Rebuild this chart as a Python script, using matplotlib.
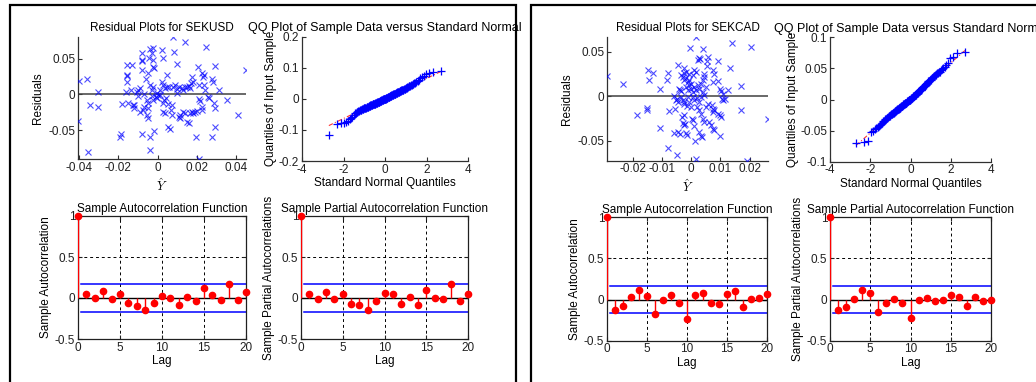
import matplotlib
matplotlib.use('Agg')
import matplotlib.pyplot as plt
from matplotlib.patches import Rectangle
from statistics import NormalDist
import numpy as np

plt.rcParams['font.family'] = ['Liberation Sans', 'DejaVu Sans']
plt.rcParams['mathtext.fontset'] = 'cm'
plt.rcParams['font.size'] = 8.5
plt.rcParams['axes.unicode_minus'] = False

# ---------------- data ----------------
# SEKUSD residual plot (fitted values vs residuals)
fitted_usd = [-0.0402, -0.0357, -0.0405, -0.0354, -0.0346, -0.0303, -0.0303, -0.0158, -0.0133, -0.0158,
              -0.0155, -0.0155, -0.0162, -0.0138, -0.0179, -0.0150, -0.0192, -0.0184, -0.0124, -0.0119,
              -0.0107, -0.0102, -0.0090, -0.0099, -0.0082, -0.0082, -0.0078, -0.0082, -0.0082, -0.0090,
              -0.0073, -0.0070, -0.0056, -0.0060, -0.0048, -0.0039, -0.0031, -0.0022, -0.0026, -0.0043,
              -0.0022, -0.0019, -0.0039, -0.0022, -0.0031, -0.0031, -0.0022, -0.0005, 0.0003, 0.0012,
              -0.0048, -0.0056, -0.0051, -0.0048, -0.0039, -0.0039, -0.0019, 0.0024, 0.0026, 0.0020,
              0.0029, 0.0037, 0.0046, 0.0041, 0.0032, 0.0026, 0.0029, 0.0037, 0.0049, 0.0054,
              0.0063, 0.0077, 0.0083, 0.0097, 0.0075, 0.0066, 0.0071, 0.0080, 0.0089, 0.0097,
              0.0106, 0.0114, 0.0106, 0.0114, 0.0140, 0.0123, 0.0131, 0.0140, 0.0148, 0.0157,
              0.0162, 0.0131, 0.0140, 0.0148, 0.0157, 0.0165, 0.0174, 0.0182, 0.0191, 0.0199,
              0.0174, 0.0182, 0.0169, 0.0204, 0.0211, 0.0211, 0.0216, 0.0194, 0.0208, 0.0225,
              0.0233, 0.0228, 0.0245, 0.0233, 0.0242, 0.0225, 0.0225, 0.0255, 0.0262, 0.0276,
              0.0279, 0.0289, 0.0310, 0.0284, 0.0293, 0.0293, 0.0276, 0.0352, 0.0407, 0.0449,
              -0.0005, 0.0012, -0.0010, 0.0060, -0.0070, 0.0100, -0.0120, 0.0050]
resid_usd = [0.0186, 0.0209, -0.0367, -0.0809, -0.0153, -0.0181, 0.0028, 0.0405, 0.0405, 0.0270,
             0.0256, 0.0177, 0.0037, 0.0060, -0.0135, -0.0126, -0.0591, -0.0558, -0.0153, -0.0195,
             0.0037, 0.0060, 0.0084, -0.0023, 0.0581, 0.0479, 0.0465, 0.0340, -0.0558, -0.0242,
             -0.0219, -0.0172, -0.0079, 0.0209, 0.0293, 0.0628, 0.0581, 0.0651, 0.0479, 0.0502,
             0.0386, 0.0372, 0.0130, 0.0107, 0.0060, -0.0023, -0.0079, -0.0056, -0.0009, 0.0060,
             -0.0195, -0.0288, -0.0335, -0.0126, -0.0591, -0.0777, -0.0507, 0.0619, 0.0502, 0.0177,
             0.0130, 0.0084, 0.0107, -0.0056, -0.0079, -0.0126, -0.0247, -0.0265, 0.0270, -0.0451,
             -0.0484, 0.0805, 0.0595, 0.0419, -0.0149, -0.0219, -0.0288, 0.0107, 0.0130, 0.0070,
             0.0098, -0.0288, -0.0312, -0.0335, 0.0726, 0.0084, 0.0060, 0.0107, 0.0098, 0.0116,
             0.0084, -0.0242, -0.0265, -0.0381, -0.0405, -0.0256, -0.0242, -0.0265, -0.0251, -0.0228,
             0.0237, 0.0177, 0.0153, 0.0386, 0.0130, -0.0070, -0.0093, -0.0600, -0.0907, 0.0293,
             0.0270, 0.0247, 0.0665, 0.0130, 0.0060, -0.0172, -0.0219, -0.0033, -0.0047, 0.0209,
             0.0177, 0.0400, 0.0060, -0.0126, -0.0186, -0.0451, -0.0600, -0.0079, -0.0288, 0.0340,
             0.0020, -0.0009, -0.0040, 0.0100, 0.0010, 0.0020, -0.0150, -0.0130]

# SEKCAD residual plot
fitted_cad = [-0.0289, -0.0233, -0.0147, -0.0131, -0.0144, -0.0185, -0.0151, -0.0151, -0.0109, -0.0107,
              -0.0085, -0.0079, -0.0078, -0.0079, -0.0049, -0.0045, -0.0026, -0.0061, -0.0056, -0.0053,
              -0.0047, -0.0049, -0.0041, -0.0038, -0.0036, -0.0036, -0.0030, -0.0026, -0.0024, -0.0032,
              -0.0024, -0.0022, -0.0059, -0.0047, -0.0038, -0.0030, -0.0026, -0.0018, -0.0015, -0.0003,
              0.0017, 0.0039, 0.0022, 0.0026, 0.0030, 0.0054, 0.0056, 0.0054, 0.0091, 0.0074,
              0.0079, 0.0076, 0.0091, 0.0097, 0.0102, 0.0105, 0.0108, 0.0114, 0.0125, 0.0108,
              0.0131, 0.0141, 0.0203, 0.0169, 0.0169, 0.0191, 0.0263, 0.0091, 0.0097, 0.0102,
              0.0071, 0.0076, 0.0079, 0.0074, 0.0062, 0.0068, 0.0074, 0.0079, 0.0028, 0.0033,
              0.0037, 0.0014, 0.0016, 0.0005, 0.0001, 0.0010, 0.0097, 0.0056, 0.0051, -0.0036,
              -0.0030, -0.0024, -0.0018, -0.0013, -0.0007, -0.0001, -0.0009, -0.0018, -0.0013, -0.0001,
              0.0005, 0.0010, 0.0016, 0.0022, 0.0028, 0.0033, 0.0039, 0.0043, 0.0045, 0.0010,
              0.0016, 0.0005, -0.0007, -0.0018, -0.0026, 0.0005, 0.0010, 0.0020, 0.0028, 0.0033,
              0.0039, 0.0045, 0.0051, -0.0013, -0.0007, -0.0015, -0.0001, 0.0018, 0.0025, 0.0033,
              0.0039, 0.0045]
resid_cad = [0.0226, 0.0135, 0.0293, 0.0267, 0.0180, -0.0214, -0.0128, -0.0158, 0.0086, -0.0357,
             0.0180, 0.0263, -0.0169, -0.0583, -0.0654, 0.0350, 0.0323, 0.0000, -0.0139, -0.0045,
             -0.0064, -0.0030, 0.0086, 0.0075, 0.0060, -0.0008, -0.0045, -0.0064, -0.0083, -0.0233,
             -0.0214, -0.0308, -0.0414, -0.0402, -0.0421, -0.0301, -0.0327, -0.0414, -0.0429, 0.0538,
             0.0669, 0.0526, 0.0406, 0.0425, 0.0414, 0.0395, 0.0436, 0.0338, 0.0395, 0.0293,
             0.0256, 0.0162, 0.0169, 0.0086, 0.0060, -0.0030, -0.0045, -0.0026, 0.0068, 0.0023,
             0.0320, 0.0602, 0.0556, 0.0113, -0.0158, -0.0722, -0.0259, -0.0195, -0.0214, -0.0233,
             -0.0102, -0.0139, -0.0158, -0.0177, -0.0289, -0.0316, -0.0365, -0.0383, -0.0402, -0.0440,
             -0.0459, -0.0496, -0.0703, -0.0271, -0.0252, -0.0338, -0.0440, -0.0083, -0.0120, 0.0237,
             0.0218, 0.0180, 0.0211, 0.0162, 0.0180, 0.0143, 0.0124, 0.0105, 0.0068, 0.0086,
             0.0049, 0.0105, 0.0068, 0.0124, 0.0086, 0.0143, 0.0180, 0.0218, 0.0248, 0.0293,
             0.0274, 0.0237, 0.0248, 0.0274, 0.0263, -0.0008, -0.0045, -0.0015, -0.0064, -0.0008,
             0.0049, 0.0011, 0.0105, -0.0008, -0.0064, -0.0113, -0.0120, -0.0120, -0.0158, -0.0195,
             -0.0252, -0.0289]

# QQ plot samples (sorted sample data)
qq_usd = [-0.115, -0.080, -0.078, -0.077, -0.074, -0.070, -0.066, -0.062, -0.057, -0.053,
          -0.046, -0.044, -0.042, -0.041, -0.040, -0.039, -0.037, -0.036, -0.035, -0.034,
          -0.033, -0.032, -0.031, -0.030, -0.029, -0.029, -0.028, -0.027, -0.026, -0.025,
          -0.025, -0.024, -0.023, -0.023, -0.022, -0.021, -0.021, -0.020, -0.019, -0.019,
          -0.018, -0.018, -0.017, -0.016, -0.016, -0.015, -0.015, -0.014, -0.013, -0.013,
          -0.012, -0.012, -0.011, -0.011, -0.010, -0.010, -0.009, -0.009, -0.008, -0.007,
          -0.007, -0.006, -0.006, -0.005, -0.005, -0.004, -0.004, -0.003, -0.002, -0.002,
          -0.001, -0.001, 0.000, 0.000, 0.001, 0.001, 0.002,
          0.002, 0.003, 0.004, 0.004, 0.005, 0.005, 0.006, 0.007, 0.007, 0.008,
          0.008, 0.009, 0.010, 0.010, 0.011, 0.011, 0.012, 0.013, 0.013, 0.014,
          0.015, 0.015, 0.016, 0.017, 0.017, 0.018, 0.019, 0.019, 0.020, 0.021,
          0.021, 0.022, 0.023, 0.023, 0.024, 0.025, 0.026, 0.026, 0.027, 0.028,
          0.029, 0.030, 0.030, 0.031, 0.032, 0.033, 0.034, 0.035, 0.036, 0.037,
          0.038, 0.040, 0.041, 0.042, 0.044, 0.045, 0.047, 0.048, 0.050, 0.052,
          0.055, 0.058, 0.062, 0.066, 0.070, 0.075, 0.080, 0.084, 0.088, 0.091]
qq_cad = [-0.070, -0.068, -0.067, -0.053, -0.050, -0.047, -0.046, -0.045, -0.043, -0.041,
          -0.039, -0.037, -0.035, -0.034, -0.033, -0.032, -0.031, -0.030, -0.029, -0.028,
          -0.027, -0.027, -0.026, -0.025, -0.024, -0.024, -0.023, -0.022, -0.022, -0.021,
          -0.020, -0.020, -0.019, -0.019, -0.018, -0.017, -0.017, -0.016, -0.016, -0.015,
          -0.015, -0.014, -0.014, -0.013, -0.013, -0.012, -0.012, -0.011, -0.011, -0.010,
          -0.010, -0.009, -0.009, -0.008, -0.008, -0.007, -0.007, -0.006, -0.006, -0.005,
          -0.005, -0.005, -0.004, -0.004, -0.003, -0.003, -0.002, -0.002, -0.001, -0.001,
          -0.001, 0.000, 0.000, 0.001, 0.001, 0.002, 0.002,
          0.003, 0.003, 0.004, 0.004, 0.005, 0.005, 0.006, 0.006, 0.007, 0.007,
          0.008, 0.008, 0.009, 0.009, 0.010, 0.011, 0.011, 0.012, 0.012, 0.013,
          0.013, 0.014, 0.015, 0.015, 0.016, 0.016, 0.017, 0.018, 0.018, 0.019,
          0.020, 0.020, 0.021, 0.022, 0.022, 0.023, 0.024, 0.025, 0.025, 0.026,
          0.027, 0.028, 0.029, 0.029, 0.030, 0.031, 0.032, 0.033, 0.034, 0.035,
          0.036, 0.037, 0.038, 0.039, 0.040, 0.041, 0.042, 0.043, 0.044, 0.045,
          0.047, 0.049, 0.051, 0.053, 0.056, 0.059, 0.066, 0.068, 0.074, 0.076]

# Autocorrelations, lags 0..20
acf_usd = [1, 0.045, 0.004, 0.080, -0.010, 0.050, -0.060, -0.100, -0.150, -0.060, 0.030,
           0.005, -0.085, 0.012, -0.040, 0.125, 0.033, -0.030, 0.167, -0.020, 0.070]
pacf_usd = [1, 0.045, -0.010, 0.078, -0.010, 0.050, -0.078, -0.090, -0.150, -0.040, 0.060,
            0.045, -0.078, 0.012, -0.090, 0.100, 0.000, -0.010, 0.167, -0.040, 0.050]
acf_cad = [1, -0.122, -0.078, 0.033, 0.114, 0.040, -0.180, 0.000, 0.053, -0.045, -0.233,
           0.053, 0.078, -0.045, -0.053, 0.065, 0.102, -0.090, 0.012, 0.020, 0.065]
pacf_cad = [1, -0.122, -0.090, 0.012, 0.114, 0.080, -0.155, -0.045, 0.012, -0.045, -0.220,
            0.000, 0.025, -0.020, -0.008, 0.057, 0.037, -0.078, 0.037, -0.020, -0.008]
bound_usd = 0.165
bound_cad = 0.167

# tick labels
usd_xticks = [-0.04, -0.02, 0, 0.02, 0.04]
usd_xticklabels = ['-0.04', '-0.02', '0', '0.02', '0.04']
cad_xticks = [-0.02, -0.01, 0, 0.01, 0.02]
cad_xticklabels = ['-0.02', '-0.01', '0', '0.01', '0.02']
res_yticks = [-0.05, 0, 0.05]
res_yticklabels = ['-0.05', '0', '0.05']
qq_xticks = [-4, -2, 0, 2, 4]
qq_xticklabels = ['-4', '-2', '0', '2', '4']
qq_usd_yticks = [-0.2, -0.1, 0, 0.1, 0.2]
qq_usd_yticklabels = ['-0.2', '-0.1', '0', '0.1', '0.2']
qq_cad_yticks = [-0.1, -0.05, 0, 0.05, 0.1]
qq_cad_yticklabels = ['-0.1', '-0.05', '0', '0.05', '0.1']
acf_xticks = [0, 5, 10, 15, 20]
acf_yticks = [-0.5, 0, 0.5, 1]
acf_yticklabels = ['-0.5', '0', '0.5', '1']

# ---------------- figure ----------------
W, H = 1036, 382
fig = plt.figure(figsize=(W / 100, H / 100), dpi=100)


def rect(x0, x1, ytop, ybot):
    return [x0 / W, 1 - ybot / H, (x1 - x0) / W, (ybot - ytop) / H]


def style_open(ax):
    for s in ('top', 'right'):
        ax.spines[s].set_visible(False)
    for s in ('left', 'bottom'):
        ax.spines[s].set_color('#303030')
        ax.spines[s].set_linewidth(0.9)
    ax.tick_params(direction='in', length=3, width=0.8, pad=2, colors='#303030',
                   labelcolor='#202020', labelsize=8.5, top=False, right=False)


def scatter_panel(r, fitted, resid, title, xt, xtl):
    ax = fig.add_axes(r)
    ax.plot(fitted, resid, linestyle='none', marker='x', color='blue',
            ms=4, mew=0.8, alpha=0.7, zorder=3)
    ax.set_xlim(min(fitted), max(fitted))
    ax.set_ylim(min(resid), max(resid))
    ax.axhline(0, color='#404040', lw=1.1, zorder=2)
    ax.set_xticks(xt, xtl)
    ax.set_yticks(res_yticks, res_yticklabels)
    style_open(ax)
    ax.set_title(title, fontsize=8.5, pad=4)
    ax.set_ylabel('Residuals', fontsize=8.5, labelpad=3)
    ax.set_xlabel(r'$\hat{Y}$', fontsize=9, labelpad=2)
    return ax


def qq_panel(r, sample, ylim, yt, ytl):
    ax = fig.add_axes(r)
    nd = NormalDist()
    s = sorted(sample)
    n = len(s)
    z = np.array([nd.inv_cdf((i + 0.5) / n) for i in range(n)])
    q1y, q3y = np.percentile(s, [25, 75])
    q1x, q3x = nd.inv_cdf(0.25), nd.inv_cdf(0.75)
    slope = (q3y - q1y) / (q3x - q1x)
    icpt = q1y - slope * q1x
    xs = np.array([z[0], z[-1]])
    ax.plot(xs, icpt + slope * xs, color='red', ls=(0, (4, 2, 1, 2)), lw=0.8, alpha=0.8, zorder=2)
    ax.plot(z, s, ls='none', marker='+', color='blue', ms=6, mew=0.9, zorder=3)
    ax.set_xlim(-4, 4)
    ax.set_ylim(*ylim)
    ax.set_xticks(qq_xticks, qq_xticklabels)
    ax.set_yticks(yt, ytl)
    style_open(ax)
    ax.set_title('QQ Plot of Sample Data versus Standard Normal', fontsize=9, pad=4)
    ax.set_xlabel('Standard Normal Quantiles', fontsize=8.5, labelpad=1)
    ax.set_ylabel('Quantiles of Input Sample', fontsize=8.5, labelpad=1)
    return ax


def acf_panel(r, vals, bound, title, ylabel):
    ax = fig.add_axes(r)
    lags = np.arange(len(vals))
    ax.set_xlim(0, 20)
    ax.set_ylim(-0.5, 1)
    ax.set_xticks(acf_xticks, [str(t) for t in acf_xticks])
    ax.set_yticks(acf_yticks, acf_yticklabels)
    ax.grid(True, color='black', ls=(0, (3, 3)), lw=0.7)
    ax.set_axisbelow(True)
    ax.axhline(0, color='black', lw=1.0, zorder=2)
    ml, sl, bl = ax.stem(lags, vals, linefmt='r-', markerfmt='ro', basefmt=' ')
    plt.setp(sl, color='red', lw=1.0, zorder=3)
    plt.setp(ml, color='red', ms=4.5, zorder=4, clip_on=False)
    ax.plot([0.4, 20], [bound, bound], color='blue', lw=1.1, zorder=2)
    ax.plot([0.4, 20], [-bound, -bound], color='blue', lw=1.1, zorder=2)
    for s in ax.spines.values():
        s.set_color('#202020')
        s.set_linewidth(0.9)
    ax.tick_params(direction='in', length=3, width=0.8, pad=2, colors='#202020',
                   labelsize=8.5, top=True, right=True)
    ax.set_title(title, fontsize=8.5, pad=3)
    ax.set_xlabel('Lag', fontsize=8.5, labelpad=1)
    ax.set_ylabel(ylabel, fontsize=8.5, labelpad=2)
    return ax


# left panel (SEKUSD)
scatter_panel(rect(78, 246, 36.7, 159.3), fitted_usd, resid_usd,
              'Residual Plots for SEKUSD', usd_xticks, usd_xticklabels)
qq_panel(rect(302, 468, 36.7, 161), qq_usd, (-0.2, 0.2), qq_usd_yticks, qq_usd_yticklabels)
acf_panel(rect(78, 246, 216, 339), acf_usd, bound_usd,
          'Sample Autocorrelation Function', 'Sample Autocorrelation')
acf_panel(rect(301, 468, 216, 339), pacf_usd, bound_usd,
          'Sample Partial Autocorrelation Function', 'Sample Partial Autocorrelations')

# right panel (SEKCAD)
scatter_panel(rect(607, 768, 36.7, 160.7), fitted_cad, resid_cad,
              'Residual Plots for SEKCAD', cad_xticks, cad_xticklabels)
qq_panel(rect(830, 991, 37.3, 161.7), qq_cad, (-0.1, 0.1), qq_cad_yticks, qq_cad_yticklabels)
acf_panel(rect(607, 767, 217.3, 340.7), acf_cad, bound_cad,
          'Sample Autocorrelation Function', 'Sample Autocorrelation')
acf_panel(rect(830, 991, 217.3, 340.7), pacf_cad, bound_cad,
          'Sample Partial Autocorrelation Function', 'Sample Partial Autocorrelations')

# panel borders
fig.add_artist(Rectangle((10 / W, -0.05), (516 - 10) / W, 1 - 5 / H + 0.05, fill=False,
                         edgecolor='black', lw=1.6, transform=fig.transFigure))
fig.add_artist(Rectangle((531 / W, -0.05), (1045 - 531) / W, 1 - 5 / H + 0.05, fill=False,
                         edgecolor='black', lw=1.6, transform=fig.transFigure))

fig.savefig('out.png', dpi=100)
